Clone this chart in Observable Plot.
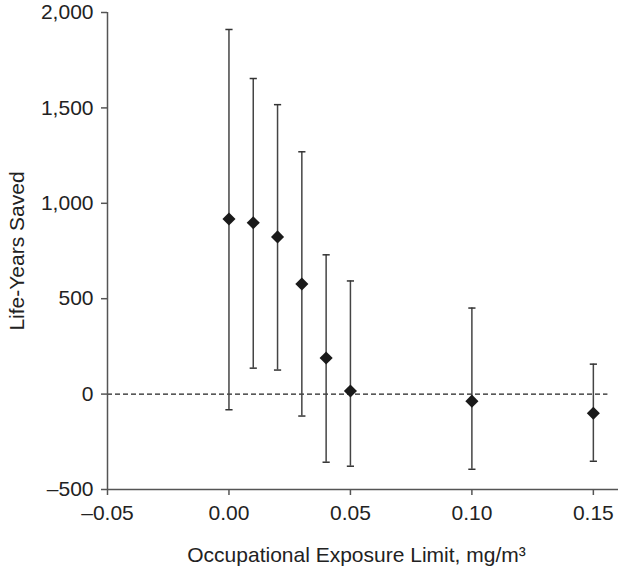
<!DOCTYPE html>
<html>
<head>
<meta charset="utf-8">
<script src="https://cdn.jsdelivr.net/npm/d3@7"></script>
<script src="https://cdn.jsdelivr.net/npm/@observablehq/plot@0.6"></script>
<style>
  html, body { margin: 0; padding: 0; background: #fff; }
  svg { display: block; }
</style>
</head>
<body>
<div id="chart"></div>
<script>
// Occupational exposure limit (mg/m3)
const limits = [0, 0.01, 0.02, 0.03, 0.04, 0.05, 0.10, 0.15];
// Life-years saved: point estimate, lower and upper bounds
const estimate = [918, 898, 824, 577, 189, 16, -37, -100];
const lower = [-82, 136, 126, -115, -357, -378, -394, -352];
const upper = [1911, 1654, 1517, 1270, 730, 593, 451, 157];
// Tick values
const xTicks = [-0.05, 0, 0.05, 0.10, 0.15];
const yTicks = [-500, 0, 500, 1000, 1500, 2000];

const data = limits.map((x, i) => ({x, est: estimate[i], lo: lower[i], hi: upper[i]}));

const fmtX = d => (d < 0 ? "\u2013" : "") + Math.abs(d).toFixed(2);
const fmtY = d => (d < 0 ? "\u2013" : "") + d3.format(",")(Math.abs(d));

const cap = {
  draw(ctx, size) {
    const w = Math.sqrt(size / Math.PI);
    ctx.moveTo(-w, 0);
    ctx.lineTo(w, 0);
  }
};

const font = "'Liberation Sans', Arial, Helvetica, sans-serif";
const axisColor = "#555";
const textColor = "#222";

const chart = Plot.plot({
  width: 618,
  height: 575,
  marginLeft: 107,
  marginRight: 13,
  marginTop: 12,
  marginBottom: 86,
  style: {fontFamily: font, fontSize: "21px", color: textColor, background: "#fff"},
  x: {domain: [-0.05, 0.155]},
  y: {domain: [-500, 2000]},
  marks: [
    // zero reference line
    Plot.ruleY([0], {x1: -0.05, x2: 0.156, stroke: "#222", strokeWidth: 1.2, strokeDasharray: "5,3"}),
    // axis lines
    Plot.ruleX([-0.05], {y1: -500, y2: 2000, stroke: axisColor, strokeWidth: 1.5}),
    Plot.ruleY([-500], {x1: -0.05, x2: 0.1605, stroke: axisColor, strokeWidth: 1.5}),
    Plot.axisY({
      ticks: yTicks, tickFormat: fmtY, tickSize: 6, tickPadding: 8,
      stroke: axisColor, strokeWidth: 1.5, fill: textColor, fontSize: 21,
      label: "Life-Years Saved", labelAnchor: "center", labelArrow: "none", labelOffset: 98
    }),
    Plot.axisX({
      ticks: xTicks, tickFormat: fmtX, tickSize: 6, tickPadding: 10,
      stroke: axisColor, strokeWidth: 1.5, fill: textColor, fontSize: 21,
      label: "Occupational Exposure Limit, mg/m\u00B3", labelAnchor: "center", labelArrow: "none", labelOffset: 72
    }),
    // error bars
    Plot.ruleX(data, {x: "x", y1: "lo", y2: "hi", stroke: "#444", strokeWidth: 1.5}),
    Plot.dot(data, {x: "x", y: "hi", symbol: cap, r: 3.6, stroke: "#333", strokeWidth: 1.5}),
    Plot.dot(data, {x: "x", y: "lo", symbol: cap, r: 3.6, stroke: "#333", strokeWidth: 1.5}),
    // point estimates
    Plot.dot(data, {x: "x", y: "est", symbol: "diamond2", r: 5.9, fill: "#1a1a1a", stroke: "none"})
  ]
});

document.getElementById("chart").appendChild(chart);
</script>
</body>
</html>
